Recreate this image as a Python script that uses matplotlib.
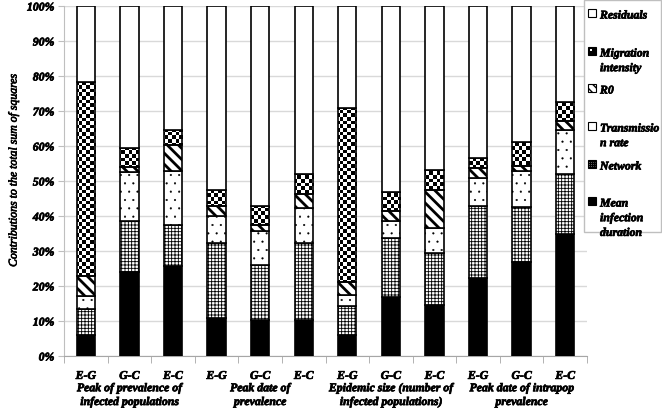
import numpy as np
import matplotlib
matplotlib.use("Agg")
import matplotlib.pyplot as plt
import matplotlib.patheffects as pe
from matplotlib.patches import Rectangle
from matplotlib.ticker import PercentFormatter, FixedLocator

plt.rcParams['font.family'] = ['Liberation Serif', 'DejaVu Serif']
plt.rcParams['font.weight'] = 'bold'
plt.rcParams['font.style'] = 'italic'
plt.rcParams['font.size'] = 8.5
heavy = [pe.withStroke(linewidth=0.5, foreground='black')]

# --- data (percent of total sum of squares) ---
cats = ['E-G', 'G-C', 'E-C'] * 4
groups = ['Peak of prevalence of\ninfected populations',
          'Peak date of\nprevalence',
          'Epidemic size (number of\ninfected populations)',
          'Peak date of intrapop\nprevalence']
mean_dur = [6.0, 23.9, 25.6, 11.0, 10.3, 10.4, 6.1, 16.8, 14.6, 22.3, 27.0, 34.9]
network = [7.4, 14.8, 11.8, 21.4, 15.7, 21.8, 8.1, 16.9, 14.8, 20.6, 15.5, 17.1]
trans_rate = [3.8, 13.8, 15.6, 7.6, 9.8, 10.2, 3.2, 4.8, 7.2, 8.0, 10.5, 12.7]
r0 = [5.6, 1.6, 7.3, 2.8, 1.7, 3.9, 3.7, 2.8, 10.8, 2.8, 1.3, 2.4]
migration = [55.4, 5.3, 4.3, 4.5, 5.5, 5.6, 49.8, 5.7, 5.8, 3.0, 6.9, 5.5]
residuals = [21.8, 40.6, 35.4, 52.7, 57.0, 48.1, 29.1, 53.0, 46.8, 43.3, 38.8, 27.4]

W, H = 662, 410
fig = plt.figure(figsize=(W / 100, H / 100), dpi=100)
ax = fig.add_axes([64 / W, 53 / H, 523 / W, 350 / H])

x = np.arange(len(cats))
bw = 0.42
series = [
    (mean_dur, 'black', None, 0.6),
    (network, 'white', '+++++', 0.6),
    (trans_rate, 'white', '..', 0.3),
    (r0, 'white', '\\\\\\', 2.0),
    (migration, 'none', None, 0.6),
    (residuals, 'white', None, 0.6),
]

bottom = np.zeros(len(cats))
mig_bars = None
for vals, fc, hatch, hlw in series:
    bars = ax.bar(x, vals, bw, bottom=bottom, facecolor=fc, edgecolor='black',
                  linewidth=1.2, hatch=hatch, zorder=3)
    for b in bars:
        if hasattr(b, 'set_hatch_linewidth'):
            b.set_hatch_linewidth(hlw)
    if vals is migration:
        mig_bars = bars
    bottom = bottom + np.array(vals)

# checkerboard fill for migration intensity
nr, nc = 97, 146
checker = np.add.outer(np.arange(nr), np.arange(nc)) % 2
for b in mig_bars:
    im = ax.imshow(checker, extent=(-0.5, 11.5, 0, 100), origin='lower',
                   cmap='gray', interpolation='nearest', aspect='auto', zorder=2.5)
    im.set_clip_path(b)

ax.set_xlim(-0.5, 11.5)
ax.set_ylim(0, 100)
ax.yaxis.set_major_locator(FixedLocator(np.arange(0, 101, 10)))
ax.yaxis.set_major_formatter(PercentFormatter(decimals=0))
ax.yaxis.grid(True, color='#d9d9d9', lw=1)
ax.set_axisbelow(True)
for s in ['top', 'right']:
    ax.spines[s].set_visible(False)
ax.spines['bottom'].set_color('#a6a6a6')
ax.spines['left'].set_color('#bfbfbf')
ax.tick_params(axis='y', length=4, color='#bfbfbf', pad=3)
ax.set_xticks(x)
ax.set_xticklabels(cats)
ax.tick_params(axis='x', length=0, pad=10)
ax.set_xticks(np.arange(-0.5, 12, 1), minor=True)
ax.tick_params(axis='x', which='minor', length=5, color='#a6a6a6')
ax.set_ylabel('Contributions to the total sum of squares')
ax.yaxis.set_label_coords(-0.085, 0.53)
ax.yaxis.label.set_path_effects(heavy)
for t in ax.get_xticklabels() + ax.get_yticklabels():
    t.set_path_effects(heavy)

for g, label in enumerate(groups):
    ax.text(3 * g + 1, -0.075, label, transform=ax.get_xaxis_transform(),
            ha='center', va='top', linespacing=1.2, path_effects=heavy)

# --- legend box (drawn by hand to match the layout) ---
def fx(px):
    return px / W

def fy(py):
    return 1 - py / H

fig.add_artist(Rectangle((fx(584), fy(233)), fx(W - 585), (233 - 1) / H,
                         transform=fig.transFigure, facecolor='white',
                         edgecolor='#bfbfbf', lw=1, zorder=5))
leg_labels = ['Residuals', 'Migration\nintensity', 'R0', 'Transmissio\nn rate',
              'Network', 'Mean\ninfection\nduration']
leg_y = [14, 52, 89, 127, 165, 202]
leg_style = [('white', None), ('check', None), ('white', '\\\\\\\\'),
             ('white', '.'), ('white', '++++++++'), ('black', None)]
s = 8
for lab, yy, (fc, hatch) in zip(leg_labels, leg_y, leg_style):
    x0, y0 = 588, yy - s / 2
    if fc == 'check':
        fig.add_artist(Rectangle((fx(x0), fy(y0 + s)), s / W, s / H,
                                 transform=fig.transFigure, facecolor='black',
                                 edgecolor='black', lw=0.8, zorder=6))
        fig.add_artist(Rectangle((fx(x0 + 1.5), fy(y0 + 4)), 2.5 / W, 2.5 / H,
                                 transform=fig.transFigure, facecolor='white',
                                 edgecolor='none', zorder=7))
    else:
        r = Rectangle((fx(x0), fy(y0 + s)), s / W, s / H,
                      transform=fig.transFigure, facecolor=fc,
                      edgecolor='black', lw=0.8, hatch=hatch, zorder=6)
        fig.add_artist(r)
    fig.text(fx(600), fy(yy - 3.5), lab, ha='left', va='top',
             linespacing=1.3, zorder=7, path_effects=heavy)

fig.savefig('out.png', dpi=100)
